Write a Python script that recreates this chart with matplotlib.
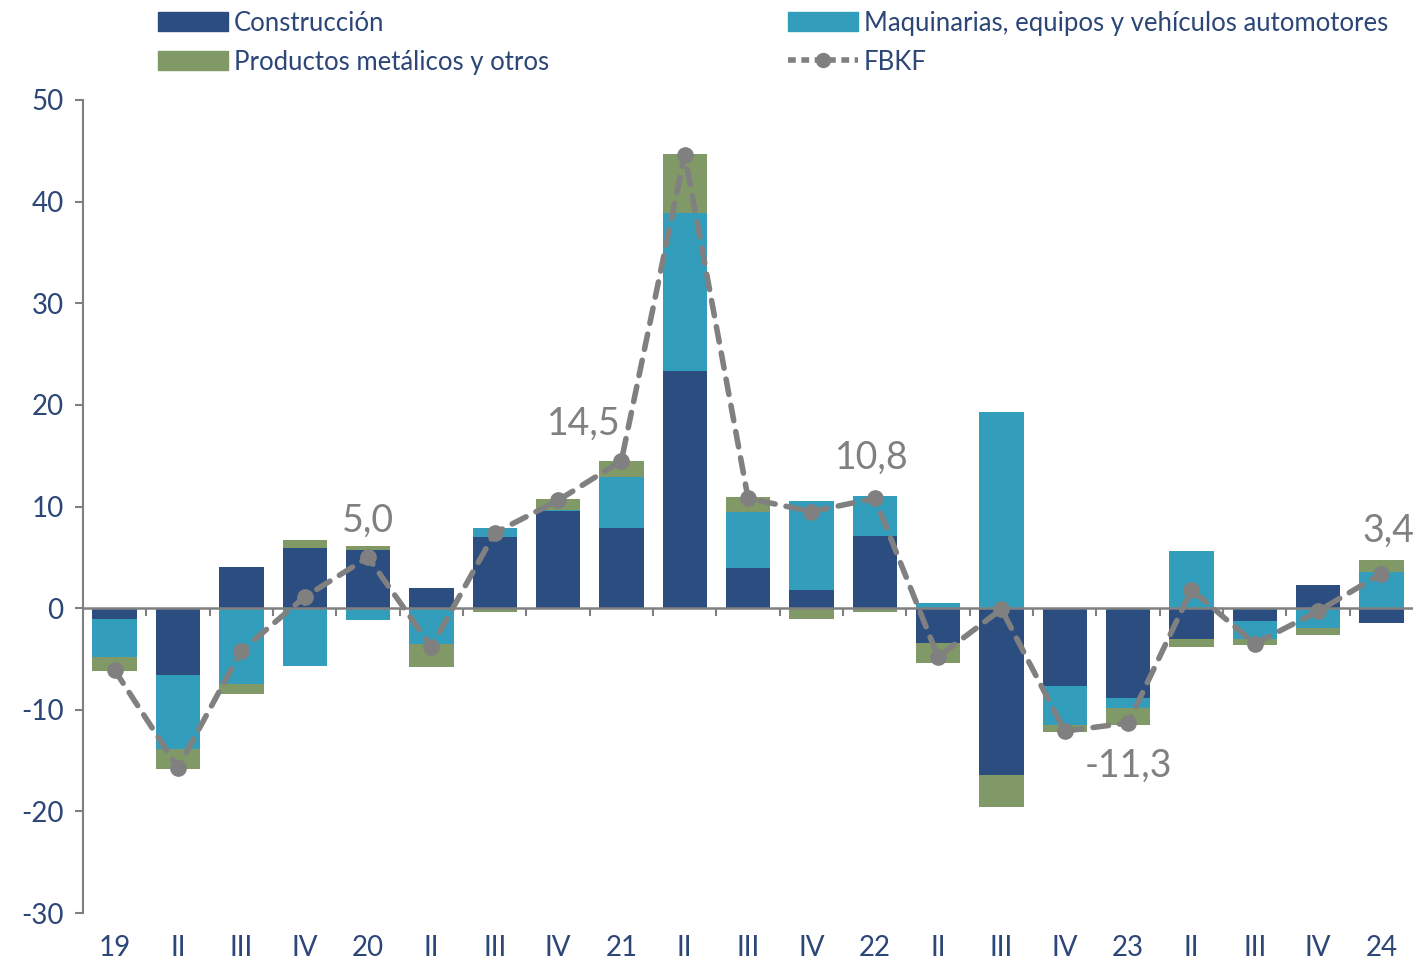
import numpy as np
import matplotlib
matplotlib.use("Agg")
import matplotlib.pyplot as plt
from matplotlib.lines import Line2D
from matplotlib.patches import Patch

plt.rcParams['font.family'] = ['Lato', 'DejaVu Sans']
plt.rcParams['axes.unicode_minus'] = False

periodos = ["19", "II", "III", "IV", "20", "II", "III", "IV", "21", "II", "III",
            "IV", "22", "II", "III", "IV", "23", "II", "III", "IV", "24"]

construccion = [-1.1, -6.6, 4.0, 5.9, 5.7, 2.0, 7.0, 9.6, 7.9, 23.3, 3.9,
                1.8, 7.1, -3.4, -16.4, -7.7, -8.8, -3.0, -1.3, 2.3, -1.5]
maquinarias = [-3.7, -7.3, -7.5, -5.7, -1.2, -3.5, 0.9, 0.1, 5.0, 15.6, 5.6,
               8.7, 3.9, 0.5, 19.3, -3.8, -1.0, 5.6, -1.7, -2.0, 3.6]
productos = [-1.4, -1.9, -0.9, 0.8, 0.4, -2.3, -0.4, 1.0, 1.6, 5.8, 1.4,
             -1.1, -0.4, -2.0, -3.2, -0.7, -1.7, -0.8, -0.6, -0.6, 1.1]
fbkf = [-6.1, -15.7, -4.2, 1.1, 5.0, -3.8, 7.4, 10.6, 14.5, 44.6, 10.8,
        9.5, 10.8, -4.8, -0.1, -12.1, -11.3, 1.8, -3.5, -0.3, 3.4]

# etiquetas destacadas: indice -> desplazamiento en puntos
etiquetas = {4: (0, 26), 8: (-27, 27), 12: (-2, 29), 16: (0, -31), 20: (5, 31)}

c_navy = "#2C4D80"
c_teal = "#339EBB"
c_green = "#819966"
c_gray = "#808080"
c_text = "#2B4677"

fig = plt.figure(figsize=(14.16, 9.68), dpi=100)
ax = fig.add_axes([0.0586, 0.0568, 0.9394, 0.8399])

x = np.arange(len(periodos))
pos_base = np.zeros(len(x))
neg_base = np.zeros(len(x))
for serie, color in [(construccion, c_navy), (maquinarias, c_teal), (productos, c_green)]:
    v = np.array(serie)
    base = np.where(v >= 0, pos_base, neg_base)
    ax.bar(x, v, 0.7, bottom=base, color=color, linewidth=0, zorder=2)
    pos_base += np.where(v >= 0, v, 0)
    neg_base += np.where(v < 0, v, 0)

ax.axhline(0, color=c_gray, lw=1.8, zorder=3)
ax.vlines(np.arange(len(x) - 1) + 0.5, -0.8, 0, color=c_gray, lw=1.5, zorder=3)

ax.plot(x, fbkf, color=c_gray, lw=4.0, dashes=(2.8, 2.0), dash_capstyle='round',
        marker='o', markersize=11, zorder=5)

for i, off in etiquetas.items():
    ax.annotate(f"{fbkf[i]:.1f}".replace(".", ","), (x[i], fbkf[i]), xytext=off,
                textcoords='offset points', ha='center', va='center',
                fontsize=27, color=c_gray, zorder=6)

ax.set_xlim(-0.5, len(x) - 0.5)
ax.set_ylim(-30, 50)
ax.set_yticks(range(-30, 51, 10))
ax.set_xticks(x)
ax.set_xticklabels(periodos)
ax.tick_params(axis='x', length=0, pad=16, labelsize=20, labelcolor=c_text)
ax.tick_params(axis='y', length=6, width=1.5, color=c_gray, pad=8,
               labelsize=20, labelcolor=c_text)
for s in ['top', 'right', 'bottom']:
    ax.spines[s].set_visible(False)
ax.spines['left'].set_color(c_gray)
ax.spines['left'].set_linewidth(1.5)

handles = [
    Patch(color=c_navy, label="Construcción"),
    Patch(color=c_green, label="Productos metálicos y otros"),
    Patch(color=c_teal, label="Maquinarias, equipos y vehículos automotores"),
    Line2D([], [], color=c_gray, lw=4.0, dashes=(1.4, 1.0), marker='o',
           markersize=10, label="FBKF"),
]
fig.legend(handles=handles, loc='upper left', bbox_to_anchor=(0.0953, 1.013), ncol=2,
           frameon=False, fontsize=18.5, labelcolor=c_text, handlelength=2.72,
           handleheight=0.75, handletextpad=0.23, columnspacing=9.3, labelspacing=0.55)

fig.savefig("out.png", dpi=100)
